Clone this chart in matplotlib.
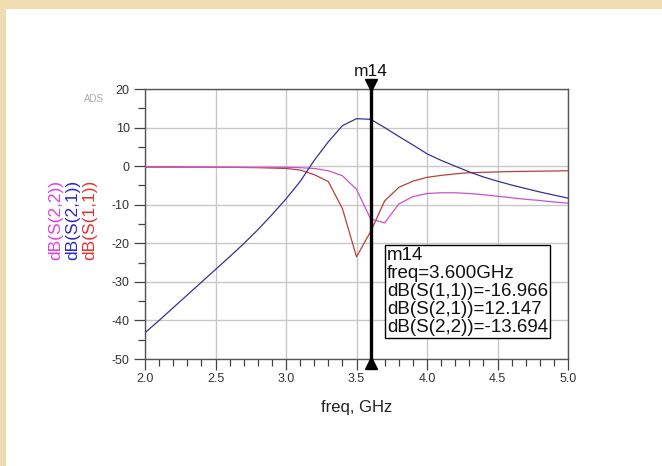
import numpy as np
import matplotlib
matplotlib.use("Agg")
import matplotlib.pyplot as plt
from matplotlib.patches import Rectangle
from matplotlib.ticker import MultipleLocator
import matplotlib.transforms as mtransforms

plt.rcParams['font.family'] = ['Liberation Sans', 'DejaVu Sans']

# ---- data ----
freq = [2.0, 2.1, 2.2, 2.3, 2.4, 2.5, 2.6, 2.7, 2.8, 2.9,
        3.0, 3.1, 3.2, 3.3, 3.4, 3.5, 3.6, 3.7, 3.8, 3.9,
        4.0, 4.1, 4.2, 4.3, 4.4, 4.5, 4.6, 4.7, 4.8, 4.9, 5.0]
s11 = [-0.2, -0.2, -0.2, -0.25, -0.25, -0.3, -0.3, -0.35, -0.4, -0.5,
       -0.6, -1.0, -2.2, -4.0, -11.0, -23.5, -16.966, -9.0, -5.5, -3.9,
       -2.9, -2.4, -2.0, -1.7, -1.6, -1.5, -1.4, -1.35, -1.3, -1.25, -1.2]
s21 = [-43.2, -40.0, -36.7, -33.4, -30.1, -26.8, -23.5, -20.1, -16.5, -12.6,
       -8.5, -4.0, 1.5, 6.3, 10.5, 12.3, 12.147, 10.0, 7.7, 5.5,
       3.2, 1.5, 0.0, -1.5, -2.8, -3.9, -4.9, -5.8, -6.7, -7.5, -8.3]
s22 = [-0.3, -0.3, -0.3, -0.3, -0.3, -0.3, -0.3, -0.3, -0.3, -0.3,
       -0.3, -0.4, -0.6, -1.2, -2.5, -6.0, -13.694, -14.7, -9.8, -7.9,
       -7.1, -6.9, -6.9, -7.1, -7.4, -7.8, -8.2, -8.6, -8.9, -9.3, -9.6]
marker_name = "m14"
marker_freq = 3.6
x_ticks = [2.0, 2.5, 3.0, 3.5, 4.0, 4.5, 5.0]
y_ticks = [-50, -40, -30, -20, -10, 0, 10, 20]

# ---- figure ----
W, H = 662, 466
fig = plt.figure(figsize=(W / 100, H / 100), dpi=100, facecolor='#efdcb0')
fig.patches.append(Rectangle((6 / W, 0), 1, (H - 9) / H, transform=fig.transFigure,
                             facecolor='white', edgecolor='none', zorder=-10))

ax = fig.add_axes([145 / W, 1 - 359 / H, 423 / W, 270 / H])
ax.set_zorder(1)
ax.set_xlim(2.0, 5.0)
ax.set_ylim(-50, 20)

ax.plot(freq, s11, color='#b8403c', lw=0.9, zorder=3)
ax.plot(freq, s22, color='#cc50cc', lw=0.9, zorder=3)
ax.plot(freq, s21, color='#34348c', lw=0.9, zorder=4)

ax.set_xticks(x_ticks)
ax.set_xticklabels([f"{v:.1f}" for v in x_ticks])
ax.set_yticks(y_ticks)
ax.set_yticklabels([str(v) for v in y_ticks])
ax.xaxis.set_minor_locator(MultipleLocator(0.1))
ax.yaxis.set_minor_locator(MultipleLocator(5))
ax.grid(True, which='major', color='#c8c8c8', lw=1.0)
ax.set_axisbelow(True)
ax.tick_params(which='major', direction='out', length=8, width=0.9, color='#444444',
               labelsize=9, labelcolor='#333333', pad=3)
ax.tick_params(axis='x', which='major', pad=2)
ax.tick_params(which='minor', direction='out', length=5, width=0.9, color='#444444')
for s in ax.spines.values():
    s.set_color('#555555')
    s.set_linewidth(1.0)

ax.set_xlabel("freq, GHz", fontsize=12, color='#222222', labelpad=11)

# stacked y labels
ylab = [("dB(S(2,2))", '#e040e0', 56), ("dB(S(2,1))", '#2a2ac4', 73), ("dB(S(1,1))", '#e03434', 90)]
for txt, col, xp in ylab:
    fig.text(xp / W, 1 - 220 / H, txt, rotation=90, color=col, fontsize=12.5,
             ha='center', va='center')
fig.text(94 / W, 1 - 99 / H, "ADS", color='#aaaaaa', fontsize=7, ha='center', va='center')

# marker
ax.axvline(marker_freq, color='black', lw=2.4, zorder=6)
top_tr = mtransforms.offset_copy(ax.transData, fig=fig, y=4, units='dots')
bot_tr = mtransforms.offset_copy(ax.transData, fig=fig, y=-4, units='dots')
ax.plot([marker_freq], [20], marker='v', color='black', ms=9, transform=top_tr,
        clip_on=False, zorder=7)
ax.plot([marker_freq], [-50], marker='^', color='black', ms=9, transform=bot_tr,
        clip_on=False, zorder=7)
ax.text(marker_freq, 20, marker_name, transform=mtransforms.offset_copy(ax.transData, fig=fig, y=18, units='dots'),
        ha='center', va='center', fontsize=12.5, color='#111111', clip_on=False)

i = freq.index(marker_freq)
box_txt = (f"{marker_name}\nfreq={marker_freq:.3f}GHz\n"
           f"dB(S(1,1))={s11[i]:.3f}\ndB(S(2,1))={s21[i]:.3f}\ndB(S(2,2))={s22[i]:.3f}")
ax.text((387 - 145) / 423, (359 - 247) / 270, box_txt, transform=ax.transAxes,
        ha='left', va='top', fontsize=13.5, linespacing=1.08, color='#111111', zorder=8,
        bbox=dict(boxstyle='square,pad=0.1', facecolor='white', edgecolor='black', lw=1.0))

fig.savefig("out.png", dpi=100, facecolor=fig.get_facecolor())
